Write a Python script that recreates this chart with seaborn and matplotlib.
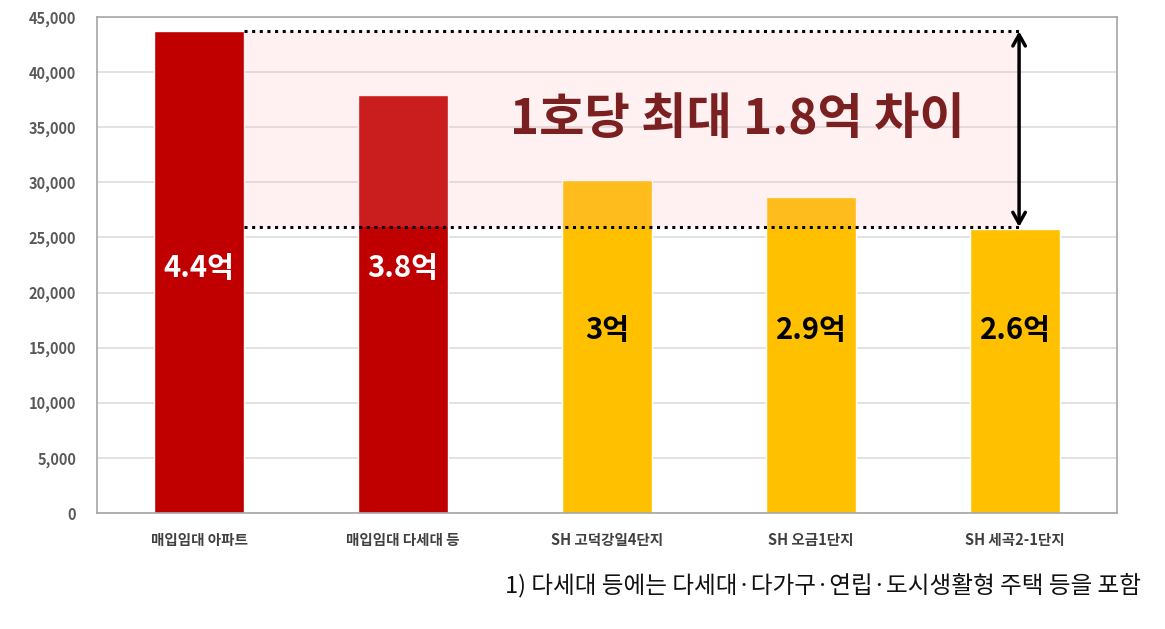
import matplotlib.pyplot as plt
import pandas as pd
import seaborn as sns

# 데이터
categories = ["매입임대 아파트", "매입임대 다세대 등", "SH 고덕강일4단지", "SH 오금1단지", "SH 세곡2-1단지"]
values = [43700, 37900, 30200, 28700, 25800]
value_labels = ["4.4억", "3.8억", "3억", "2.9억", "2.6억"]
bar_colors = ["#C00000", "#C00000", "#FFC000", "#FFC000", "#FFC000"]
y_ticks = [0, 5000, 10000, 15000, 20000, 25000, 30000, 35000, 40000, 45000]
gap_top = 43700
gap_low = 25950
headline = "1호당 최대 1.8억 차이"
footnote = "1) 다세대 등에는 다세대·다가구·연립·도시생활형 주택 등을 포함"

sns.set_style("white")
plt.rcParams["font.family"] = ["Noto Sans CJK KR", "DejaVu Sans"]

df = pd.DataFrame({"name": categories, "price": values})

fig = plt.figure(figsize=(11.65, 6.29), dpi=100)
ax = fig.add_axes([0.0833, 0.1844, 0.8755, 0.7886])

sns.barplot(data=df, x="name", y="price", hue="name", palette=bar_colors,
            width=0.44, saturation=1, legend=False, ax=ax, zorder=2)

ax.set_xlim(-0.5, 4.5)
ax.set_ylim(0, 45000)
ax.set_yticks(y_ticks)
ax.set_yticklabels([f"{t:,}" for t in y_ticks], color="#595959", fontsize=10.5, fontweight="bold")
ax.tick_params(axis="x", colors="#404040", labelsize=10.5, length=0, pad=14)
ax.tick_params(axis="y", length=0, pad=15)
for lab in ax.get_xticklabels():
    lab.set_fontweight("bold")
ax.set_xlabel("")
ax.set_ylabel("")
ax.yaxis.grid(True, color="#DDDDDD", linewidth=1.2, zorder=0)
ax.set_axisbelow(True)
for sp in ax.spines.values():
    sp.set_color("#A6A6A6")
    sp.set_linewidth(1.2)

# 차이 영역
x0 = 0.22
x1 = 4.02
ax.fill_between([x0, x1], gap_low, gap_top, color="#FFB0B0", alpha=0.17, zorder=3, linewidth=0)
ax.plot([x0, x1], [gap_top, gap_top], color="black", linestyle=(0, (1, 1.5)), linewidth=2.2, zorder=4)
ax.plot([x0, x1], [gap_low, gap_low], color="black", linestyle=(0, (1, 1.5)), linewidth=2.2, zorder=4)
ax.annotate("", xy=(x1, gap_top), xytext=(x1, gap_low),
            arrowprops=dict(arrowstyle="<->,head_length=0.8,head_width=0.45", color="black", lw=2.5,
                            shrinkA=0, shrinkB=0), zorder=5)
ax.text(2.637, 35660, headline, ha="center", va="center", fontsize=35.5, fontweight="bold",
        color="#7B2020", zorder=6)

# 값 레이블
for i, lab in enumerate(value_labels):
    if bar_colors[i] == "#C00000":
        ax.text(i, 22200, lab, ha="center", va="center", fontsize=21, fontweight="bold", color="white", zorder=6)
    else:
        ax.text(i, 16600, lab, ha="center", va="center", fontsize=21, fontweight="bold", color="black", zorder=6)

fig.text(0.979, 0.07, footnote, ha="right", va="center", fontsize=17, color="#111111")

fig.savefig("out.png", dpi=100)
